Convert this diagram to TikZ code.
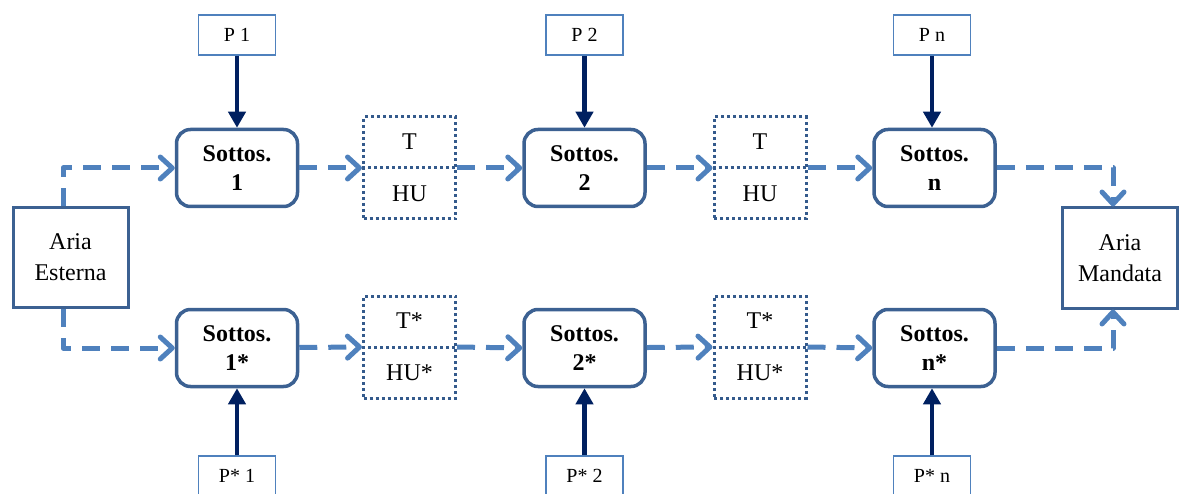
\documentclass[tikz,border=0pt]{standalone}
\usepackage{fontspec}
\setmainfont{Liberation Serif}
\usetikzlibrary{arrows.meta}

\definecolor{boxblue}{RGB}{60,97,146}
\definecolor{flowblue}{RGB}{79,129,189}
\definecolor{pushnavy}{RGB}{0,32,96}
\definecolor{dotblue}{RGB}{52,90,140}

\tikzset{
  sottos/.style={draw=boxblue, line width=3.5pt, rounded corners=14pt,
    minimum width=121pt, minimum height=77pt, inner sep=0pt, align=center,
    font=\fontsize{24}{29}\selectfont\bfseries},
  ariabox/.style={draw=boxblue, line width=3pt, minimum width=115pt,
    minimum height=100pt, inner sep=0pt, align=center,
    font=\fontsize{24}{31}\selectfont},
  pbox/.style={draw=flowblue, line width=1.5pt, minimum width=77pt,
    minimum height=40pt, inner sep=0pt, font=\fontsize{20}{24}\selectfont},
  dotbox/.style={draw=dotblue, line width=3pt, dash pattern=on 3pt off 3pt,
    minimum width=92pt, minimum height=102pt, inner sep=0pt},
  dotline/.style={draw=dotblue, line width=3pt, dash pattern=on 3pt off 3pt},
  vartext/.style={font=\fontsize{24}{29}\selectfont, inner sep=0pt},
  flow/.style={draw=flowblue, line width=5pt, dash pattern=on 18pt off 11pt,
    line join=round, -{Straight Barb[length=12pt,width=22pt,round]}},
  push/.style={draw=pushnavy, line width=4.5pt,
    -{Triangle[length=16pt,width=17pt]}},
}

\begin{document}
\begin{tikzpicture}[x=1pt,y=-1pt]
\useasboundingbox (0,0) rectangle (1180,494);
\clip (0,0) rectangle (1180,494);

% outside and supply air
\node[ariabox] (AE) at (70.5,257.5) {Aria\\Esterna};
\node[ariabox] (AM) at (1120,258) {Aria\\Mandata};

% sub-systems, upper and lower chains
\node[sottos] (S1) at (237,168) {Sottos.\\1};
\node[sottos] (S2) at (584.5,168) {Sottos.\\2};
\node[sottos] (Sn) at (934.5,168) {Sottos.\\n};
\node[sottos] (S1s) at (237,348) {Sottos.\\1*};
\node[sottos] (S2s) at (584.5,348) {Sottos.\\2*};
\node[sottos] (Sns) at (934.5,348) {Sottos.\\n*};

% intermediate air states
\node[dotbox] (D1) at (409.5,168) {};
\node[dotbox] (D2) at (760,168) {};
\node[dotbox] (D1s) at (409.5,347) {};
\node[dotbox] (D2s) at (760,347) {};
\foreach \d/\s in {D1/, D2/, D1s/*, D2s/*}{
  \draw[dotline] (\d.west) -- (\d.east);
  \node[vartext] at ([yshift=26pt]\d.center) {T\s};
  \node[vartext] at ([yshift=-26pt]\d.center) {HU\s};
}

% loads
\node[pbox] (P1) at (237,35) {P 1};
\node[pbox] (P2) at (584.5,35) {P 2};
\node[pbox] (Pn) at (932,35) {P n};
\node[pbox] (P1s) at (237,476) {P* 1};
\node[pbox] (P2s) at (584.5,476) {P* 2};
\node[pbox] (Pns) at (932,476) {P* n};

\draw[push] (P1) -- (S1);
\draw[push] (P2) -- (S2);
\draw[push] (Pn) -- (Pn |- Sn.north);
\draw[push] (P1s) -- (S1s);
\draw[push] (P2s) -- (S2s);
\draw[push] (Pns) -- (Pns |- Sns.south);

% air flow
\coordinate (AEt) at ([xshift=-7.5pt]AE.north);
\coordinate (AEb) at ([xshift=-7.5pt]AE.south);
\coordinate (AMt) at ([xshift=-7pt]AM.north);
\coordinate (AMb) at ([xshift=-7pt]AM.south);

\draw[flow] (AEt) |- (S1.west);
\draw[flow] (AEb) |- (S1s.west);
\draw[flow] (S1) -- (D1.west);
\draw[flow] (D1.east) -- (S2.west);
\draw[flow] (S2) -- (D2.west);
\draw[flow] (D2.east) -- (Sn.west);
\draw[flow] (S1s) -- (D1s.west);
\draw[flow] (D1s.east) -- (S2s.west);
\draw[flow] (S2s) -- (D2s.west);
\draw[flow] (D2s.east) -- (Sns.west);
\draw[flow] (Sn.east) -| (AMt);
\draw[flow] (Sns.east) -| (AMb);
\end{tikzpicture}
\end{document}
